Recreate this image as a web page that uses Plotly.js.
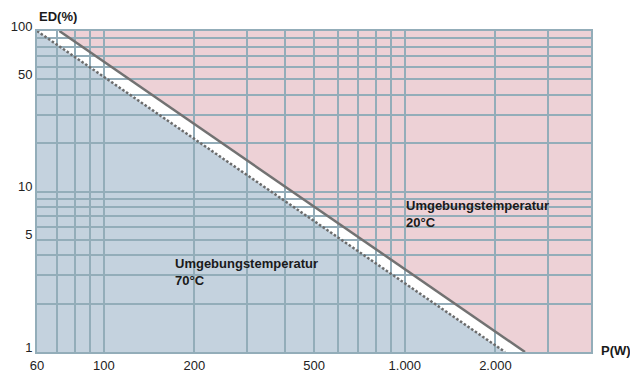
<!DOCTYPE html>
<html>
<head>
<meta charset="utf-8">
<script src="https://cdn.plot.ly/plotly-3.0.1.min.js"></script>
<style>html,body{margin:0;padding:0;background:#fff;}#chart{width:630px;height:376px;}</style>
</head>
<body>
<div id="chart"></div>
<script>
// ---- data ----
const edLevels = [100, 1];            // ED(%) at start / end of each boundary
const p20 = [71.2, 2508];             // P(W) boundary, ambient 20°C
const p70 = [60, 2153];               // P(W) boundary, ambient 70°C
const xTickVals = [60,70,80,90,100,200,300,400,500,600,700,800,900,1000,2000,3000];
const xTickText = ['60','','','','100','200','','','500','','','','','1.000','2.000',''];
const yTickVals = [1,2,3,4,5,6,7,8,9,10,20,30,40,50,60,70,80,90,100];
const yTickText = ['1','','','','5','','','','','10','','','','50','','','','','100'];
const xMin = 60, xMax = 4155, yMin = 1, yMax = 100;
const label20 = 'Umgebungstemperatur<br>20°C';
const label70 = 'Umgebungstemperatur<br>70°C';

// ---- styling ----
const gridColor = '#93adb9';
const pink = '#edd1d6';
const blue = '#c4d2de';
const lineColor = '#727272';
const fontFam = 'Liberation Sans, Arial, sans-serif';

function poly(xs, ys) {
  return 'M' + xs.map((x, i) => x + ',' + ys[i]).join('L') + 'Z';
}

const shapes = [
  { type: 'path', layer: 'below', xref: 'x', yref: 'y', line: {width: 0}, fillcolor: '#ffffff',
    path: poly([xMin, p20[0], p20[1], xMin], [edLevels[0], edLevels[0], edLevels[1], yMin]) },
  { type: 'path', layer: 'below', xref: 'x', yref: 'y', line: {width: 0}, fillcolor: blue,
    path: poly([p70[0], p70[1], xMin], [edLevels[0], edLevels[1], yMin]) }
];

const traces = [
  { x: p70, y: edLevels, type: 'scatter', mode: 'lines', hoverinfo: 'skip',
    line: {color: '#6c6c6c', width: 2.5, dash: '2.5px,2px'} },
  { x: p20, y: edLevels, type: 'scatter', mode: 'lines', hoverinfo: 'skip',
    line: {color: lineColor, width: 2.5} }
];

const layout = {
  width: 630, height: 376,
  margin: {l: 37, r: 39, t: 31, b: 24, pad: 0},
  paper_bgcolor: '#ffffff', plot_bgcolor: pink,
  showlegend: false,
  font: {family: fontFam, size: 13, color: '#222'},
  xaxis: {
    type: 'log', range: [Math.log10(xMin), Math.log10(xMax)],
    tickmode: 'array', tickvals: xTickVals, ticktext: xTickText,
    showgrid: true, gridcolor: gridColor, gridwidth: 2,
    showline: true, linecolor: gridColor, linewidth: 2, mirror: true,
    ticks: '', zeroline: false, fixedrange: true,
    tickfont: {family: fontFam, size: 13, color: '#222'}
  },
  yaxis: {
    type: 'log', range: [Math.log10(yMin), Math.log10(yMax)],
    tickmode: 'array', tickvals: yTickVals, ticktext: yTickText,
    showgrid: true, gridcolor: gridColor, gridwidth: 2,
    showline: true, linecolor: gridColor, linewidth: 2, mirror: true,
    ticks: '', zeroline: false, fixedrange: true, ticklabelshift: -5,
    tickfont: {family: fontFam, size: 13, color: '#222'}
  },
  shapes: shapes,
  annotations: [
    { text: '<b>ED(%)</b>', xref: 'paper', yref: 'paper', x: 0, y: 1.0445,
      xanchor: 'left', yanchor: 'middle', showarrow: false,
      font: {family: fontFam, size: 13, color: '#1a1a1a'} },
    { text: '<b>P(W)</b>', xref: 'paper', yref: 'paper', x: 1.015, y: 0.005,
      xanchor: 'left', yanchor: 'middle', showarrow: false,
      font: {family: fontFam, size: 13, color: '#1a1a1a'} },
    { text: '<b>' + label20 + '</b>', xref: 'paper', yref: 'paper', x: 0.6625, y: 0.431,
      xanchor: 'left', yanchor: 'middle', align: 'left', showarrow: false,
      font: {family: fontFam, size: 13, color: '#1a1a1a'} },
    { text: '<b>' + label70 + '</b>', xref: 'paper', yref: 'paper', x: 0.246, y: 0.2498,
      xanchor: 'left', yanchor: 'middle', align: 'left', showarrow: false,
      font: {family: fontFam, size: 13, color: '#1a1a1a'} }
  ]
};

Plotly.newPlot('chart', traces, layout, {displayModeBar: false, staticPlot: true});
</script>
</body>
</html>
